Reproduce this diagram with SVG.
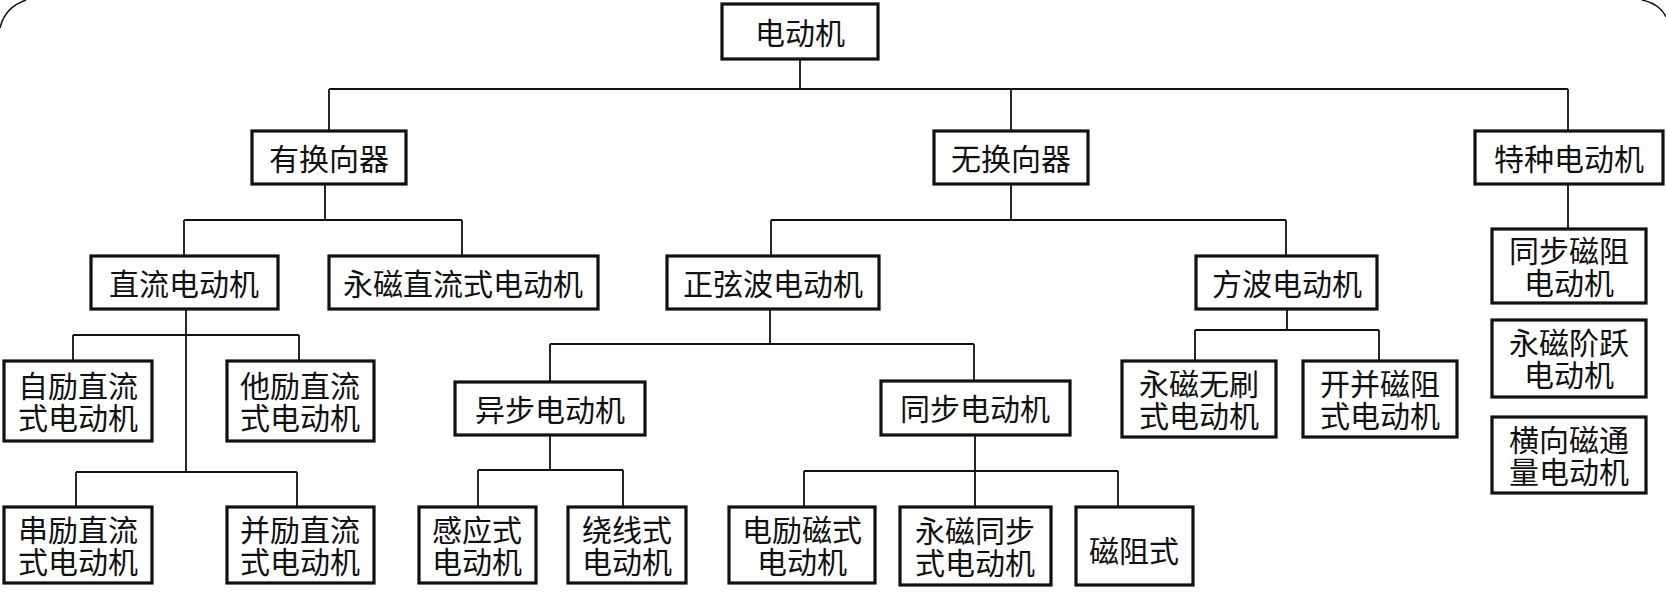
<svg xmlns="http://www.w3.org/2000/svg" width="1666" height="595" viewBox="0 0 1666 595">
<style>
.bg{fill:#fff}
.frame{fill:none;stroke:#111;stroke-width:1.5}
.c{fill:none;stroke:#111;stroke-width:1.8}
.box{fill:#fff;stroke:#111;stroke-width:3.2}
text{font-family:"Liberation Serif","Noto Sans CJK SC",serif;font-size:30px;fill:#111;text-anchor:middle;dominant-baseline:central}
</style>
<rect class="bg" x="0" y="0" width="1666" height="595"/>
<path class="frame" d="M0 28 Q5 7 26 0 M1642 0 Q1660 4 1666 17"/>
<g id="connectors">
<path class="c" d="M800 59V89 M329 89H1568 M329 89V131 M1011 89V131 M1568 89V131"/>
<path class="c" d="M325 184V220 M184 220H462 M184 220V256 M462 220V256"/>
<path class="c" d="M1011 184V220 M771 220H1286 M771 220V256 M1286 220V256"/>
<path class="c" d="M1568 184V229"/>
<path class="c" d="M186 309V472 M73 335H299 M73 335V361 M299 335V361 M76 472H297 M76 472V507 M297 472V507"/>
<path class="c" d="M770 309V344 M550 344H974 M550 344V382 M974 344V381"/>
<path class="c" d="M550 435V470 M478 470H623 M478 470V507 M623 470V507"/>
<path class="c" d="M975 435V507 M804 471H1118 M804 471V507 M1118 471V507"/>
<path class="c" d="M1287 309V330 M1195 330H1379 M1195 330V361 M1379 330V361"/>
</g>
<g id="n0"><rect class="box" x="722" y="4" width="156" height="55"/><text x="800" y="33">电动机</text></g>
<g id="n1"><rect class="box" x="252" y="131" width="154" height="53"/><text x="329" y="159">有换向器</text></g>
<g id="n2"><rect class="box" x="934" y="131" width="154" height="53"/><text x="1011" y="159">无换向器</text></g>
<g id="n3"><rect class="box" x="1475" y="131" width="188" height="53"/><text x="1569" y="159">特种电动机</text></g>
<g id="n4"><rect class="box" x="91" y="256" width="187" height="53"/><text x="184" y="284">直流电动机</text></g>
<g id="n5"><rect class="box" x="329" y="256" width="269" height="53"/><text x="463" y="284">永磁直流式电动机</text></g>
<g id="n6"><rect class="box" x="667" y="256" width="212" height="53"/><text x="773" y="284">正弦波电动机</text></g>
<g id="n7"><rect class="box" x="1196" y="256" width="181" height="53"/><text x="1287" y="284">方波电动机</text></g>
<g id="n8"><rect class="box" x="1492" y="229" width="154" height="74"/><text x="1569" y="251">同步磁阻</text><text x="1569" y="283">电动机</text></g>
<g id="n9"><rect class="box" x="1492" y="320" width="154" height="77"/><text x="1569" y="343">永磁阶跃</text><text x="1569" y="375">电动机</text></g>
<g id="n10"><rect class="box" x="1492" y="417" width="154" height="76"/><text x="1569" y="440">横向磁通</text><text x="1569" y="472">量电动机</text></g>
<g id="n11"><rect class="box" x="4" y="361" width="148" height="80"/><text x="78" y="386">自励直流</text><text x="78" y="418">式电动机</text></g>
<g id="n12"><rect class="box" x="227" y="361" width="147" height="80"/><text x="300" y="386">他励直流</text><text x="300" y="418">式电动机</text></g>
<g id="n13"><rect class="box" x="4" y="507" width="148" height="76"/><text x="78" y="530">串励直流</text><text x="78" y="562">式电动机</text></g>
<g id="n14"><rect class="box" x="227" y="507" width="147" height="76"/><text x="300" y="530">并励直流</text><text x="300" y="562">式电动机</text></g>
<g id="n15"><rect class="box" x="455" y="382" width="190" height="53"/><text x="550" y="410">异步电动机</text></g>
<g id="n16"><rect class="box" x="881" y="381" width="189" height="54"/><text x="975" y="409">同步电动机</text></g>
<g id="n17"><rect class="box" x="1122" y="361" width="154" height="76"/><text x="1199" y="384">永磁无刷</text><text x="1199" y="416">式电动机</text></g>
<g id="n18"><rect class="box" x="1303" y="361" width="154" height="76"/><text x="1380" y="384">开并磁阻</text><text x="1380" y="416">式电动机</text></g>
<g id="n19"><rect class="box" x="419" y="507" width="117" height="76"/><text x="477" y="530">感应式</text><text x="477" y="562">电动机</text></g>
<g id="n20"><rect class="box" x="568" y="507" width="118" height="76"/><text x="627" y="530">绕线式</text><text x="627" y="562">电动机</text></g>
<g id="n21"><rect class="box" x="729" y="507" width="146" height="76"/><text x="802" y="530">电励磁式</text><text x="802" y="562">电动机</text></g>
<g id="n22"><rect class="box" x="900" y="507" width="151" height="78"/><text x="975" y="531">永磁同步</text><text x="975" y="563">式电动机</text></g>
<g id="n23"><rect class="box" x="1076" y="507" width="117" height="78"/><text x="1134" y="551">磁阻式</text></g>
</svg>
